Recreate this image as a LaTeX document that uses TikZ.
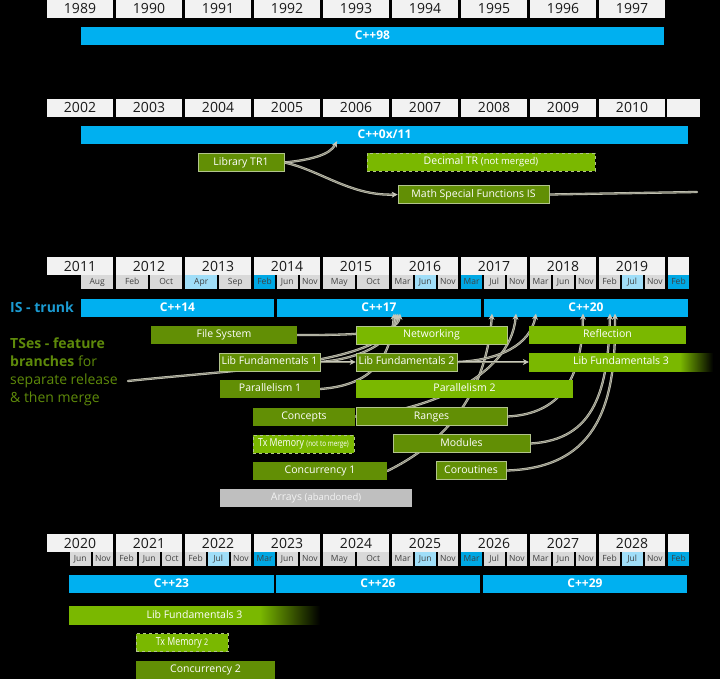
\documentclass[tikz,border=0pt]{standalone}
\usepackage{fontspec}
\setmainfont{Open Sans}
\usepackage{graphicx}
\usepackage{xcolor}
\usetikzlibrary{arrows.meta}

\definecolor{trunkblue}{RGB}{0,176,240}
\definecolor{trunklabel}{RGB}{27,155,210}
\definecolor{tsdark}{RGB}{98,143,5}
\definecolor{tsbright}{RGB}{122,184,0}
\definecolor{tslabel}{RGB}{94,138,10}
\definecolor{yearfill}{RGB}{242,242,242}
\definecolor{monfill}{RGB}{217,217,217}
\definecolor{monlight}{RGB}{160,222,248}
\definecolor{mondark}{RGB}{0,168,228}
\definecolor{linklight}{RGB}{200,200,186}
\definecolor{linkdark}{RGB}{140,140,122}
\definecolor{tsframe}{RGB}{178,196,140}
\definecolor{dropgray}{RGB}{191,191,191}

\pgfdeclarelayer{bg}
\pgfdeclarelayer{bars}
\pgfdeclarelayer{links}
\pgfsetlayers{bg,bars,links,main}

\pgfdeclarehorizontalshading{fadeshort}{100bp}{color(0bp)=(tsbright); color(66bp)=(tsbright); color(75bp)=(black); color(100bp)=(black)}
\pgfdeclarehorizontalshading{fadelong}{100bp}{color(0bp)=(tsbright); color(63bp)=(tsbright); color(75bp)=(black); color(100bp)=(black)}

\tikzset{
  yearbox/.style={fill=yearfill, minimum width=66pt, minimum height=18pt, inner sep=0pt,
    font=\fontsize{14}{14}\selectfont, text=black!90, text height=10pt, text depth=0pt},
  monbox/.style={fill=monfill, minimum height=14pt, inner sep=0pt,
    font=\fontsize{8.5}{8.5}\selectfont, text=black!75, text height=6.2pt, text depth=1.5pt},
  monlt/.style={monbox, fill=monlight},
  mondk/.style={monbox, fill=mondark},
  trunk/.style={fill=trunkblue, minimum height=18pt, inner sep=0pt, text=white,
    font=\fontsize{12}{12}\selectfont\bfseries, text height=8.6pt, text depth=1.5pt},
  tsbox/.style={minimum height=18pt, inner sep=0pt, text=white,
    font=\fontsize{10.5}{10.5}\selectfont, text height=7.6pt, text depth=2.2pt},
  tsold/.style={tsbox, fill=tsdark},
  tsnew/.style={tsbox, fill=tsbright},
  framed/.style={draw=tsframe, line width=0.7pt},
  nomerge/.style={draw=tsframe, dashed, line width=0.6pt},
  link/.style={draw=linklight, double=linkdark, double distance=0.9pt, line width=0.7pt, line cap=round},
  arrowed/.style={-{Stealth[length=6pt,width=6pt]}}
}

\begin{document}
\begin{tikzpicture}[x=1pt, y=1pt]
  \useasboundingbox (0,0) rectangle (720,-679);
  \begin{pgfonlayer}{bg}
    \fill[black] (0,0) rectangle (720,-679);
  \end{pgfonlayer}

  % years
  \foreach \yr [count=\i from 0] in {1989,...,1997}
    \node[yearbox] (y\yr) at (80+69*\i,-9) {\yr};
  \foreach \yr [count=\i from 0] in {2002,...,2010}
    \node[yearbox] (y\yr) at (80+69*\i,-108) {\yr};
  \node[yearbox, minimum width=33pt] (yend2) at (683.5,-108) {};
  \foreach \yr [count=\i from 0] in {2011,...,2019}
    \node[yearbox] (y\yr) at (80+69*\i,-266) {\yr};
  \node[yearbox, minimum width=21pt] (yend3) at (678,-266) {};
  \foreach \yr [count=\i from 0] in {2020,...,2028}
    \node[yearbox] (y\yr) at (80+69*\i,-543) {\yr};
  \node[yearbox, minimum width=21pt] (yend4) at (678,-543) {};

  % meetings
  \foreach \i/\nn/\sl/\mon/\sty in {0/2/1/Aug/monbox, 1/2/0/Feb/monbox, 1/2/1/Oct/monbox,
      2/2/0/Apr/monlt, 2/2/1/Sep/monbox, 3/3/0/Feb/mondk, 3/3/1/Jun/monbox, 3/3/2/Nov/monbox,
      4/2/0/May/monbox, 4/2/1/Oct/monbox, 5/3/0/Mar/monbox, 5/3/1/Jun/monlt, 5/3/2/Nov/monbox,
      6/3/0/Mar/mondk, 6/3/1/Jul/monbox, 6/3/2/Nov/monbox, 7/3/0/Mar/monbox, 7/3/1/Jun/monbox,
      7/3/2/Nov/monbox, 8/3/0/Feb/monbox, 8/3/1/Jul/monlt, 8/3/2/Nov/monbox, 9/3/0/Feb/mondk} {
    \pgfmathsetmacro\cw{(66-2*(\nn-1))/\nn}
    \pgfmathsetmacro\cx{47+69*\i+\sl*(\cw+2)}
    \node[\sty, minimum width=\cw pt, anchor=north west] (ma-\i-\sl) at (\cx,-275) {\mon};
  }
  \foreach \i/\nn/\sl/\mon/\sty in {0/3/1/Jun/monbox, 0/3/2/Nov/monbox, 1/3/0/Feb/monbox,
      1/3/1/Jun/monbox, 1/3/2/Oct/monbox, 2/3/0/Feb/monbox, 2/3/1/Jul/monlt, 2/3/2/Nov/monbox,
      3/3/0/Mar/mondk, 3/3/1/Jun/monbox, 3/3/2/Nov/monbox, 4/2/0/May/monbox, 4/2/1/Oct/monbox,
      5/3/0/Mar/monbox, 5/3/1/Jun/monlt, 5/3/2/Nov/monbox, 6/3/0/Mar/mondk, 6/3/1/Jul/monbox,
      6/3/2/Nov/monbox, 7/3/0/Mar/monbox, 7/3/1/Jun/monbox, 7/3/2/Nov/monbox, 8/3/0/Feb/monbox,
      8/3/1/Jul/monlt, 8/3/2/Nov/monbox, 9/3/0/Feb/mondk} {
    \pgfmathsetmacro\cw{(66-2*(\nn-1))/\nn}
    \pgfmathsetmacro\cx{47+69*\i+\sl*(\cw+2)}
    \node[\sty, minimum width=\cw pt, anchor=north west] (mb-\i-\sl) at (\cx,-552) {\mon};
  }

  % standards
  \begin{pgfonlayer}{bars}
    \node[trunk, minimum width=583pt] (cpp98) at (372.5,-36) {C++98};
    \node[trunk, minimum width=607pt] (cpp11) at (384.5,-135) {C++0x/11};
    \node[trunk, minimum width=193pt] (cpp14) at (177.5,-307.5) {C++14};
    \node[trunk, minimum width=204pt] (cpp17) at (379,-307.5) {C++17};
    \node[trunk, minimum width=204pt] (cpp20) at (586,-307.5) {C++20};
    \node[trunk, minimum width=205pt] (cpp23) at (171.5,-584) {C++23};
    \node[trunk, minimum width=204pt] (cpp26) at (378,-584) {C++26};
    \node[trunk, minimum width=204pt] (cpp29) at (585,-584) {C++29};
  \end{pgfonlayer}

  \node[font=\fontsize{14}{14}\selectfont\bfseries, text=trunklabel, inner sep=0pt, anchor=west]
    (istrunk) at (10,-307.5) {IS - trunk};
  \node[font=\fontsize{14}{18}\selectfont, text=tslabel, align=left, inner sep=0pt, anchor=north west]
    (tses) at (10,-337.5) {\textbf{TSes - feature}\\\textbf{branches} for\\separate release\\\& then merge};

  % TRs and TSes
  \node[tsold, framed, minimum width=86pt] (tr1) at (241,-162.5) {Library TR1};
  \node[tsnew, nomerge, minimum width=228pt] (dectr) at (481,-162) {Decimal TR {\fontsize{9.5}{9.5}\selectfont(not merged)}};
  \node[tsold, framed, minimum width=151pt] (msf) at (473.5,-194.5) {Math Special Functions IS};

  \node[tsold, minimum width=146pt] (fs) at (224,-335) {File System};
  \node[tsnew, framed, minimum width=151pt] (net) at (431.5,-335) {Networking};
  \node[tsnew, minimum width=157pt] (refl) at (607.5,-335) {Reflection};
  \node[tsold, framed, minimum width=101pt] (lf1) at (269.5,-362) {Lib Fundamentals 1};
  \node[tsold, framed, minimum width=101pt] (lf2) at (406.5,-362) {Lib Fundamentals 2};
  \node[tsbox, shade, shading=fadeshort, minimum width=184pt] (lf3) at (621,-362) {Lib Fundamentals 3};
  \node[tsold, minimum width=100pt] (par1) at (270,-389) {Parallelism 1};
  \node[tsnew, minimum width=217pt] (par2) at (464.5,-389) {Parallelism 2};
  \node[tsold, minimum width=102pt] (concepts) at (304,-416.5) {Concepts};
  \node[tsold, framed, minimum width=151pt] (ranges) at (431.5,-416.5) {Ranges};
  \node[tsnew, nomerge, minimum width=101pt] (txm) at (303.5,-444)
    {\scalebox{0.8}[1]{\fontsize{11}{11}\selectfont Tx Memory \fontsize{8}{8}\selectfont(not to merge)}};
  \node[tsold, framed, minimum width=137pt] (modules) at (461.5,-443.5) {Modules};
  \node[tsold, minimum width=134pt] (conc1) at (320,-471) {Concurrency 1};
  \node[tsold, framed, minimum width=70pt] (corout) at (471,-470.5) {Coroutines};
  \node[tsbox, fill=dropgray, text=white!95!black, minimum width=192pt] (arrays) at (316,-498)
    {Arrays {\fontsize{9.5}{9.5}\selectfont(abandoned)}};

  \node[tsbox, shade, shading=fadelong, minimum width=251pt] (lf3b) at (194.5,-615.5) {Lib Fundamentals 3};
  \node[tsnew, nomerge, minimum width=92pt] (txm2) at (182,-642.5)
    {\scalebox{0.8}[1]{\fontsize{11}{11}\selectfont Tx Memory \fontsize{9}{9}\selectfont 2}};
  \node[tsold, minimum width=139pt] (conc2) at (205.5,-670) {Concurrency 2};

  % merges
  \begin{pgfonlayer}{links}
    \coordinate (tsesstart) at (128,-381);
    \coordinate (msfend) at (697,-192);
    \draw[link, arrowed] (tr1.east) .. controls (310,-160) and (330,-155) .. ([xshift=-47.5pt,yshift=3pt]cpp11.south);
    \draw[link, arrowed] (tr1.east) .. controls (320,-170) and (350,-196) .. (msf.west);
    \draw[link] (msf.east) -- (msfend);

    \draw[link, arrowed] (fs.east) .. controls (350,-335) and (398,-335) .. ([xshift=21pt,yshift=3pt]cpp17.south);
    \draw[link, arrowed] (tsesstart) .. controls (240,-369) and (390,-365) .. ([xshift=19pt,yshift=3pt]cpp17.south);
    \draw[link, arrowed] (lf1.east) .. controls (345,-360) and (392,-350) .. ([xshift=17pt,yshift=3pt]cpp17.south);
    \draw[link, arrowed] (par1.east) .. controls (360,-386) and (390,-370) .. ([xshift=15pt,yshift=3pt]cpp17.south);
    \draw[link, arrowed] (lf1.east) -- (lf2.west);

    \draw[link, arrowed] (conc1.east) .. controls (420,-455) and (485,-415) .. ([xshift=-94pt,yshift=3pt]cpp20.south);
    \draw[link, arrowed] (concepts.east) .. controls (420,-412) and (510,-380) .. ([xshift=-70pt,yshift=3pt]cpp20.south);
    \draw[link, arrowed] (lf2.east) .. controls (500,-360) and (530,-345) .. ([xshift=-50pt,yshift=3pt]cpp20.south);
    \draw[link, arrowed] (ranges.east) .. controls (560,-414) and (582,-380) .. ([xshift=-3pt,yshift=3pt]cpp20.south);
    \draw[link, arrowed] (modules.east) .. controls (595,-440) and (608,-390) .. ([xshift=24pt,yshift=3pt]cpp20.south);
    \draw[link, arrowed] (corout.east) .. controls (600,-468) and (616,-400) .. ([xshift=29pt,yshift=3pt]cpp20.south);
    \draw[link, arrowed] (lf2.east) -- (lf3.west);
  \end{pgfonlayer}
\end{tikzpicture}
\end{document}
